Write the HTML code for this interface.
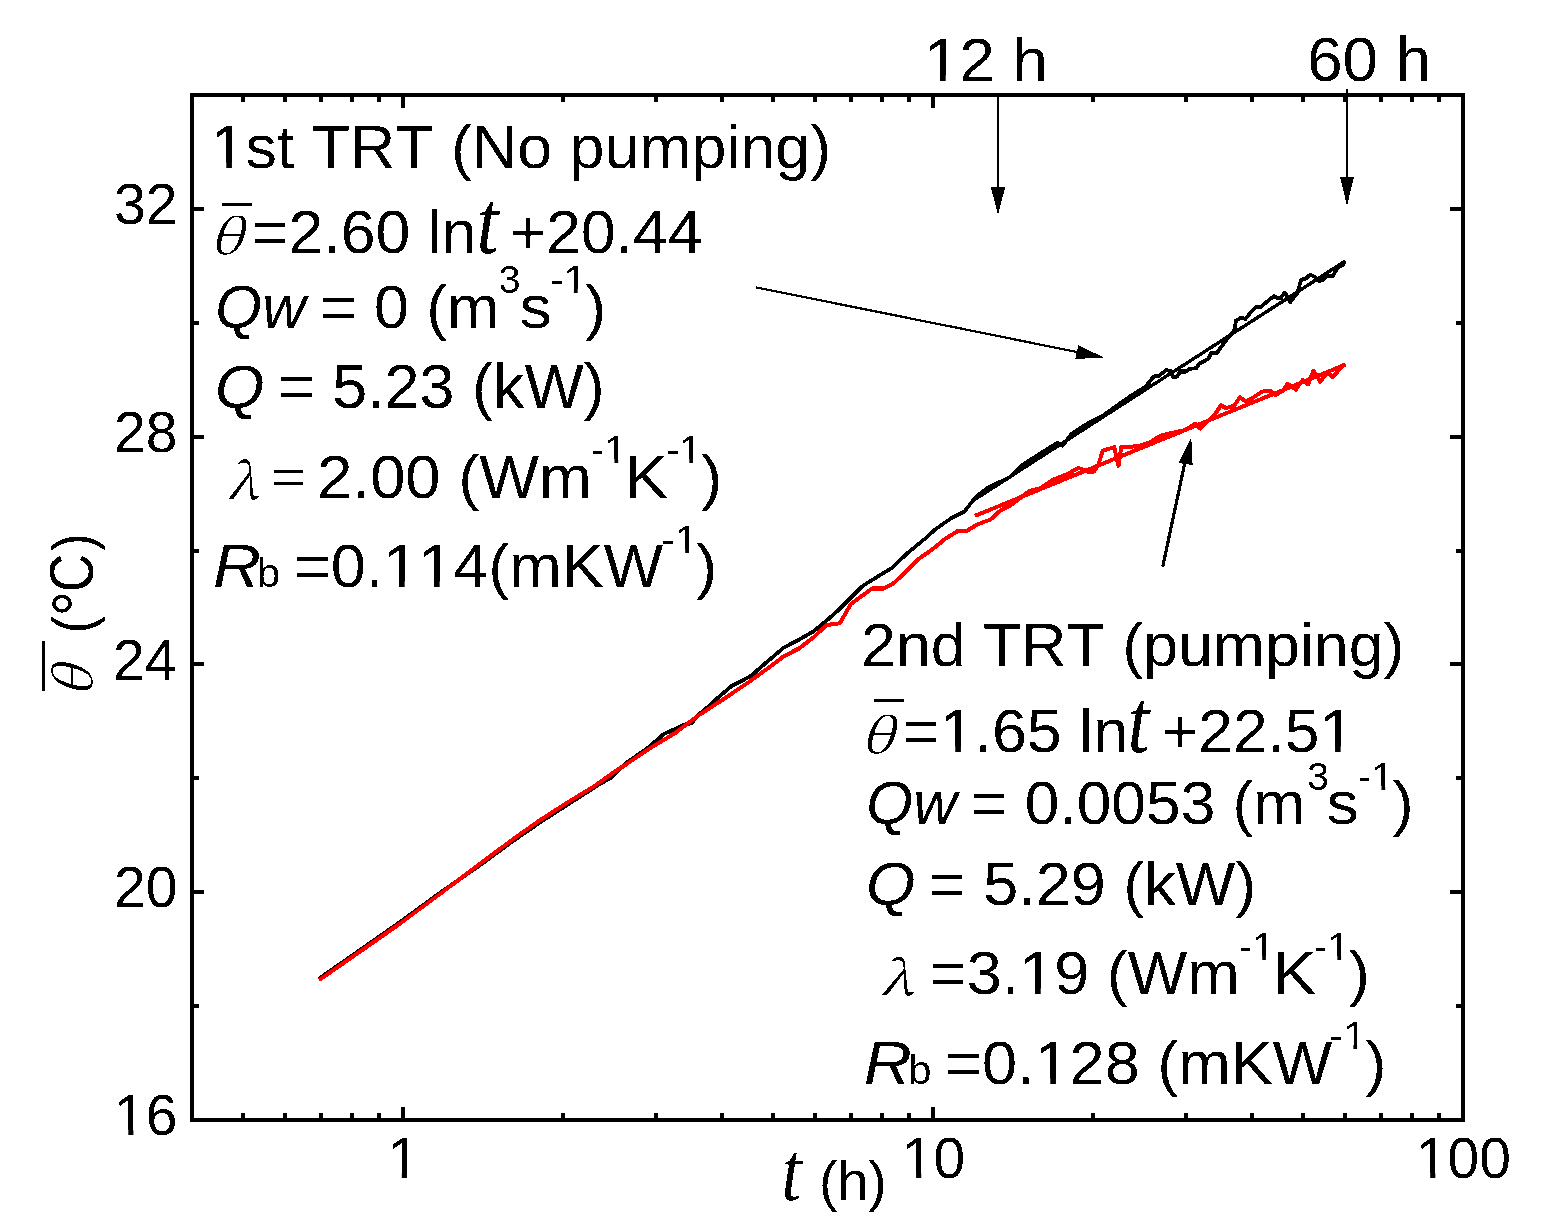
<!DOCTYPE html>
<html><head><meta charset="utf-8"><title>TRT temperature vs time</title><style>
html,body{margin:0;padding:0;background:#fff;overflow:hidden;}
svg{display:block;font-family:"Liberation Sans",Arial,sans-serif;font-size:62px;fill:#000;font-kerning:none;}
</style></head><body>
<svg width="1541" height="1231" viewBox="0 0 1541 1231">
<defs><filter id="bin" x="0" y="0" width="1541" height="1231" filterUnits="userSpaceOnUse" color-interpolation-filters="sRGB"><feComponentTransfer><feFuncA type="discrete" tableValues="0 1"/></feComponentTransfer></filter></defs>
<rect width="1541" height="1231" fill="#fff"/>
<g filter="url(#bin)">
<g fill="none" stroke-linejoin="round" stroke-linecap="butt">
<polyline points="319.0,978.5 360.0,950.0 400.0,922.0 440.0,892.8 476.5,867.8 513.1,841.0 540.0,822.5 568.0,804.5 600.0,783.8 612.3,777.0 624.7,764.0 649.3,746.8 664.1,733.8 674.0,729.5 683.8,724.6 691.2,723.4 698.6,714.7 711.0,704.3 719.6,696.2 731.9,685.8 741.8,680.8 751.7,675.3 766.5,662.3 783.8,647.6 799.2,639.5 812.2,632.2 825.2,621.7 836.5,611.9 849.5,599.0 862.5,586.0 875.5,577.9 891.7,568.1 907.9,552.7 925.7,538.1 935.5,529.2 951.7,517.8 964.7,511.2 975.7,497.1 988.6,487.1 1010.0,477.1 1021.4,465.7 1031.4,459.2 1045.7,450.0 1057.1,442.8 1062.8,445.7 1071.3,434.2 1088.5,422.8 1102.8,415.7 1117.0,405.5 1131.3,395.5 1145.6,386.5 1154.0,376.3 1158.2,376.3 1166.4,370.1 1170.4,370.8 1173.2,377.6 1177.3,376.3 1180.0,371.5 1186.8,371.5 1189.5,368.8 1196.3,368.1 1199.0,364.0 1208.6,358.6 1211.3,352.4 1216.8,353.1 1223.6,343.6 1227.7,338.1 1234.5,330.0 1235.9,320.4 1241.3,317.7 1245.4,319.0 1250.8,312.2 1256.3,306.8 1260.4,307.5 1265.8,302.7 1274.0,295.9 1278.1,298.6 1280.8,297.9 1284.9,292.5 1290.4,302.0 1297.2,293.1 1301.3,279.5 1305.4,278.8 1310.1,274.8 1314.9,276.8 1319.0,280.9 1323.1,280.2 1325.8,276.1 1332.6,276.1 1338.0,267.3 1342.8,265.2 1344.9,260.4" stroke="#000" stroke-width="3.8"/>
<line x1="975.0" y1="499.3" x2="1345.4" y2="261.0" stroke="#000" stroke-width="3.4"/>
<polyline points="319.0,980.2 360.0,951.5 400.0,923.5 440.0,894.0 476.5,866.3 513.1,839.2 540.0,820.2 568.0,802.1 592.6,787.3 612.3,773.3 624.7,765.3 649.3,748.6 674.0,733.8 698.6,715.4 723.3,699.3 748.0,682.7 772.6,664.8 784.6,655.7 799.2,648.4 813.8,637.1 826.8,624.9 839.8,623.3 851.1,603.8 872.2,588.4 883.6,588.4 893.3,583.5 907.9,569.8 919.3,558.4 932.2,549.5 945.2,538.9 958.2,530.8 967.1,530.8 977.7,524.3 990.6,519.5 1000.4,510.5 1010.0,505.6 1030.0,490.6 1040.0,488.5 1052.8,479.9 1068.5,473.5 1078.5,467.8 1087.0,471.4 1094.2,471.4 1098.5,464.2 1102.8,450.7 1114.2,447.1 1118.5,465.7 1121.3,446.4 1128.4,447.1 1139.9,445.7 1150.0,442.2 1160.9,435.4 1173.2,432.7 1185.4,429.9 1195.0,423.8 1200.4,428.6 1207.2,421.8 1214.0,415.6 1220.9,405.4 1226.3,408.1 1234.5,405.4 1240.0,397.2 1245.4,401.3 1253.6,397.2 1261.7,391.8 1269.9,390.4 1275.4,395.2 1283.5,390.4 1287.6,383.6 1295.8,389.7 1302.6,380.2 1308.1,384.3 1313.5,370.7 1320.3,381.6 1327.2,372.7 1332.6,376.8 1344.9,363.8" stroke="#f00" stroke-width="4"/>
<line x1="975.0" y1="515.8" x2="1345.4" y2="364.6" stroke="#f00" stroke-width="4"/>
</g>
<rect x="192" y="95" width="1271" height="1025" fill="none" stroke="#000" stroke-width="4"/>
<path d="M403 1118V1107M403 97V108M933 1118V1107M933 97V108M243 1118V1113M243 97V102M285 1118V1113M285 97V102M321 1118V1113M321 97V102M352 1118V1113M352 97V102M379 1118V1113M379 97V102M563 1118V1113M563 97V102M656 1118V1113M656 97V102M722 1118V1113M722 97V102M773 1118V1113M773 97V102M815 1118V1113M815 97V102M851 1118V1113M851 97V102M882 1118V1113M882 97V102M909 1118V1113M909 97V102M1093 1118V1113M1093 97V102M1186 1118V1113M1186 97V102M1252 1118V1113M1252 97V102M1303 1118V1113M1303 97V102M1345 1118V1113M1345 97V102M1381 1118V1113M1381 97V102M1412 1118V1113M1412 97V102M1439 1118V1113M1439 97V102M194 892H204M1461 892H1450M194 664H204M1461 664H1450M194 437H204M1461 437H1450M194 209H204M1461 209H1450M194 1006H199M1461 1006H1456M194 778H199M1461 778H1456M194 551H199M1461 551H1456M194 323H199M1461 323H1456" stroke="#000" stroke-width="4" fill="none" shape-rendering="crispEdges"/>
<g stroke="#000" fill="none">
<line x1="998" y1="95" x2="998" y2="190" stroke-width="2"/>
<line x1="1347.2" y1="89" x2="1347.2" y2="180" stroke-width="2.5"/>
<line x1="756" y1="287.3" x2="1080" y2="352.6" stroke-width="2.2"/>
<line x1="1162.7" y1="566.8" x2="1185" y2="462" stroke-width="3.2"/>
</g>
<g fill="#000">
<polygon points="990.8,186.7 1005.2,186.7 998,215"/>
<polygon points="1340,177 1354,177 1347,205.5"/>
<polygon points="1104,357.5 1075.4,359 1078.2,345.2"/>
<polygon points="1191.3,437.5 1178.3,463 1192.6,465"/>
<rect x="222" y="203" width="30" height="3"/>
<rect x="874" y="699" width="30" height="2.5"/>
</g>
<text transform="translate(210.55,168) scale(1.0120,1)" font-size="62"  xml:space="preserve">1st TRT (No pumping)</text>
<text transform="translate(209.70,254) scale(1.2167,1)" font-size="47.8" font-family="'Noto Serif CJK SC', serif" font-style="italic" xml:space="preserve">θ</text>
<text transform="translate(251.97,253) scale(1.0093,1)" font-size="62"  xml:space="preserve">=2.60 ln</text>
<text transform="translate(476.49,253) scale(0.8783,1)" font-size="90" font-family="'Liberation Serif', serif" font-style="italic" xml:space="preserve">t</text>
<text transform="translate(509.98,253) scale(1.0053,1)" font-size="62"  xml:space="preserve">+20.44</text>
<text transform="translate(215.28,328) scale(0.9742,1)" font-size="62" font-style="italic" xml:space="preserve">Qw</text>
<text transform="translate(319.97,328) scale(1.0112,1)" font-size="62"  xml:space="preserve">= 0 (m</text>
<text transform="translate(498.74,293) scale(1.0300,1)" font-size="38"  xml:space="preserve">3</text>
<text transform="translate(519.74,328) scale(1.0300,1)" font-size="62"  xml:space="preserve">s</text>
<text transform="translate(549.83,293) scale(1.0873,1)" font-size="38"  xml:space="preserve">-1</text>
<text transform="translate(584.97,328) scale(1.0300,1)" font-size="62"  xml:space="preserve">)</text>
<text transform="translate(214.91,408) scale(1.0300,1)" font-size="62" font-style="italic" xml:space="preserve">Q</text>
<text transform="translate(277.96,408) scale(1.0146,1)" font-size="62"  xml:space="preserve">= 5.23 (kW)</text>
<text transform="translate(227.13,499) scale(1.0690,1)" font-size="49.5" font-family="'Noto Serif CJK SC', serif" font-style="italic" xml:space="preserve">λ</text>
<text transform="translate(271.00,498) scale(1.0000,1)" font-size="62" font-family="'Liberation Serif', serif" xml:space="preserve">=</text>
<text transform="translate(317.33,498) scale(1.0218,1)" font-size="62"  xml:space="preserve">2.00 (Wm</text>
<text transform="translate(590.87,463) scale(1.0662,1)" font-size="38"  xml:space="preserve">-1</text>
<text transform="translate(624.40,498) scale(1.0600,1)" font-size="62"  xml:space="preserve">K</text>
<text transform="translate(665.88,463) scale(1.0577,1)" font-size="38"  xml:space="preserve">-1</text>
<text transform="translate(700.97,498) scale(1.0300,1)" font-size="62"  xml:space="preserve">)</text>
<text transform="translate(212.96,587) scale(1.0707,1)" font-size="62" font-style="italic" xml:space="preserve">R</text>
<text transform="translate(257.12,587) scale(1.0278,1)" font-size="40.5"  xml:space="preserve">b</text>
<text transform="translate(293.95,587) scale(1.0156,1)" font-size="62"  xml:space="preserve">=0.114(mKW</text>
<text transform="translate(660.91,553) scale(1.0958,1)" font-size="38"  xml:space="preserve">-1</text>
<text transform="translate(695.97,587) scale(1.0300,1)" font-size="62"  xml:space="preserve">)</text>
<text transform="translate(861.07,666) scale(1.0111,1)" font-size="62"  xml:space="preserve">2nd TRT (pumping)</text>
<text transform="translate(860.83,753) scale(1.2125,1)" font-size="47.8" font-family="'Noto Serif CJK SC', serif" font-style="italic" xml:space="preserve">θ</text>
<text transform="translate(902.86,752) scale(1.0130,1)" font-size="62"  xml:space="preserve">=1.65 ln</text>
<text transform="translate(1127.52,752) scale(0.8696,1)" font-size="90" font-family="'Liberation Serif', serif" font-style="italic" xml:space="preserve">t</text>
<text transform="translate(1161.99,752) scale(1.0040,1)" font-size="62"  xml:space="preserve">+22.51</text>
<text transform="translate(866.17,823.5) scale(0.9763,1)" font-size="62" font-style="italic" xml:space="preserve">Qw</text>
<text transform="translate(971.09,823.5) scale(1.0049,1)" font-size="62"  xml:space="preserve">= 0.0053 (m</text>
<text transform="translate(1307.14,789.6) scale(1.0300,1)" font-size="38"  xml:space="preserve">3</text>
<text transform="translate(1326.84,823.5) scale(1.0300,1)" font-size="62"  xml:space="preserve">s</text>
<text transform="translate(1357.87,789.6) scale(1.0662,1)" font-size="38"  xml:space="preserve">-1</text>
<text transform="translate(1392.57,823.5) scale(1.0300,1)" font-size="62"  xml:space="preserve">)</text>
<text transform="translate(866.01,905) scale(1.0300,1)" font-size="62" font-style="italic" xml:space="preserve">Q</text>
<text transform="translate(928.85,905) scale(1.0162,1)" font-size="62"  xml:space="preserve">= 5.29 (kW)</text>
<text transform="translate(880.64,995) scale(1.1556,1)" font-size="47.5" font-family="'Noto Serif CJK SC', serif" font-style="italic" xml:space="preserve">λ</text>
<text transform="translate(929.85,994) scale(1.0168,1)" font-size="62"  xml:space="preserve">=3.19 (Wm</text>
<text transform="translate(1239.11,960) scale(1.0450,1)" font-size="38"  xml:space="preserve">-1</text>
<text transform="translate(1272.71,994) scale(1.0571,1)" font-size="62"  xml:space="preserve">K</text>
<text transform="translate(1313.66,960) scale(1.0704,1)" font-size="38"  xml:space="preserve">-1</text>
<text transform="translate(1348.77,994) scale(1.0300,1)" font-size="62"  xml:space="preserve">)</text>
<text transform="translate(863.85,1084) scale(1.0732,1)" font-size="62" font-style="italic" xml:space="preserve">R</text>
<text transform="translate(908.07,1084) scale(1.0444,1)" font-size="40.5"  xml:space="preserve">b</text>
<text transform="translate(945.05,1084) scale(1.0175,1)" font-size="62"  xml:space="preserve">=0.128 (mKW</text>
<text transform="translate(1329.55,1049) scale(1.0746,1)" font-size="38"  xml:space="preserve">-1</text>
<text transform="translate(1365.17,1084) scale(1.0300,1)" font-size="62"  xml:space="preserve">)</text>
<text transform="translate(924.04,81) scale(1.0253,1)" font-size="62"  xml:space="preserve">12 h</text>
<text transform="translate(1307.22,81) scale(1.0263,1)" font-size="62"  xml:space="preserve">60 h</text>
<text transform="translate(114.00,224) scale(1.0000,1)" font-size="57"  xml:space="preserve">32</text>
<text transform="translate(114.00,452) scale(1.0000,1)" font-size="57"  xml:space="preserve">28</text>
<text transform="translate(113.00,680) scale(1.0000,1)" font-size="57"  xml:space="preserve">24</text>
<text transform="translate(114.00,907) scale(1.0000,1)" font-size="57"  xml:space="preserve">20</text>
<text transform="translate(114.00,1135) scale(1.0000,1)" font-size="57"  xml:space="preserve">16</text>
<text transform="translate(901.80,1178) scale(1.0000,1)" font-size="57"  xml:space="preserve">10</text>
<text transform="translate(1415.90,1178) scale(1.0000,1)" font-size="57"  xml:space="preserve">100</text>
<text transform="translate(387.55,1178) scale(1.0000,1)" font-size="57"  xml:space="preserve">1</text>
<text transform="translate(781.57,1200) scale(0.8571,1)" font-size="84" font-family="'Liberation Serif', serif" font-style="italic" xml:space="preserve">t</text>
<text transform="translate(818.90,1200) scale(1.0000,1)" font-size="55.6"  xml:space="preserve">(h)</text>
<g transform="translate(93,690.3) rotate(-90)">
<rect x="-0.5" y="-51" width="49.8" height="3"/>
<text transform="translate(-6.58,-1.5) scale(1.0962,1)" font-size="50.7" font-family="'Noto Serif CJK SC', serif" font-style="italic" xml:space="preserve">θ</text>
<text transform="translate(57.01,0) scale(0.9214,1)" font-size="56.5"  xml:space="preserve">(</text>
<text transform="translate(73.82,8.8) scale(0.8950,1)" font-size="72"  xml:space="preserve">°</text>
<text transform="translate(98.06,0) scale(0.8475,1)" font-size="63.2"  xml:space="preserve">C</text>
<text transform="translate(139.59,0) scale(0.9143,1)" font-size="56.5"  xml:space="preserve">)</text>
</g>
<g transform="translate(210.55,168) scale(1.0120,1)" fill="#fff"><rect x="3.94" y="-5.43" width="11.60" height="6.23"/><rect x="21.12" y="-5.43" width="11.17" height="6.23"/></g>
<g transform="translate(549.83,293) scale(1.0873,1)" fill="#fff"><rect x="14.82" y="-3.64" width="7.32" height="4.44"/><rect x="25.60" y="-3.64" width="7.08" height="4.44"/></g>
<g transform="translate(590.87,463) scale(1.0662,1)" fill="#fff"><rect x="14.82" y="-3.64" width="7.32" height="4.44"/><rect x="25.60" y="-3.64" width="7.08" height="4.44"/></g>
<g transform="translate(665.88,463) scale(1.0577,1)" fill="#fff"><rect x="14.83" y="-3.64" width="7.32" height="4.44"/><rect x="25.61" y="-3.64" width="7.08" height="4.44"/></g>
<g transform="translate(293.95,587) scale(1.0156,1)" fill="#fff"><rect x="91.83" y="-5.43" width="11.60" height="6.23"/><rect x="109.01" y="-5.43" width="11.17" height="6.23"/></g>
<g transform="translate(293.95,587) scale(1.0156,1)" fill="#fff"><rect x="126.30" y="-5.43" width="11.60" height="6.23"/><rect x="143.47" y="-5.43" width="11.17" height="6.23"/></g>
<g transform="translate(660.91,553) scale(1.0958,1)" fill="#fff"><rect x="14.83" y="-3.64" width="7.32" height="4.44"/><rect x="25.61" y="-3.64" width="7.08" height="4.44"/></g>
<g transform="translate(902.86,752) scale(1.0130,1)" fill="#fff"><rect x="40.13" y="-5.43" width="11.60" height="6.23"/><rect x="57.31" y="-5.43" width="11.17" height="6.23"/></g>
<g transform="translate(1161.99,752) scale(1.0040,1)" fill="#fff"><rect x="160.77" y="-5.43" width="11.60" height="6.23"/><rect x="177.95" y="-5.43" width="11.17" height="6.23"/></g>
<g transform="translate(1357.87,789.6) scale(1.0662,1)" fill="#fff"><rect x="14.82" y="-3.64" width="7.32" height="4.44"/><rect x="25.60" y="-3.64" width="7.08" height="4.44"/></g>
<g transform="translate(929.85,994) scale(1.0168,1)" fill="#fff"><rect x="91.84" y="-5.43" width="11.60" height="6.23"/><rect x="109.02" y="-5.43" width="11.17" height="6.23"/></g>
<g transform="translate(1239.11,960) scale(1.0450,1)" fill="#fff"><rect x="14.83" y="-3.64" width="7.32" height="4.44"/><rect x="25.61" y="-3.64" width="7.08" height="4.44"/></g>
<g transform="translate(1313.66,960) scale(1.0704,1)" fill="#fff"><rect x="14.82" y="-3.64" width="7.32" height="4.44"/><rect x="25.61" y="-3.64" width="7.08" height="4.44"/></g>
<g transform="translate(945.05,1084) scale(1.0175,1)" fill="#fff"><rect x="91.82" y="-5.43" width="11.60" height="6.23"/><rect x="109.00" y="-5.43" width="11.17" height="6.23"/></g>
<g transform="translate(1329.55,1049) scale(1.0746,1)" fill="#fff"><rect x="14.83" y="-3.64" width="7.32" height="4.44"/><rect x="25.61" y="-3.64" width="7.08" height="4.44"/></g>
<g transform="translate(924.04,81) scale(1.0253,1)" fill="#fff"><rect x="3.94" y="-5.43" width="11.60" height="6.23"/><rect x="21.12" y="-5.43" width="11.17" height="6.23"/></g>
<g transform="translate(114.00,1135) scale(1.0000,1)" fill="#fff"><rect x="3.57" y="-5.06" width="10.71" height="5.86"/><rect x="19.42" y="-5.06" width="10.31" height="5.86"/></g>
<g transform="translate(901.80,1178) scale(1.0000,1)" fill="#fff"><rect x="3.57" y="-5.06" width="10.71" height="5.86"/><rect x="19.42" y="-5.06" width="10.31" height="5.86"/></g>
<g transform="translate(1415.90,1178) scale(1.0000,1)" fill="#fff"><rect x="3.57" y="-5.06" width="10.71" height="5.86"/><rect x="19.42" y="-5.06" width="10.31" height="5.86"/></g>
<g transform="translate(387.55,1178) scale(1.0000,1)" fill="#fff"><rect x="3.57" y="-5.06" width="10.71" height="5.86"/><rect x="19.42" y="-5.06" width="10.31" height="5.86"/></g>
</g>
</svg>
</body></html>
